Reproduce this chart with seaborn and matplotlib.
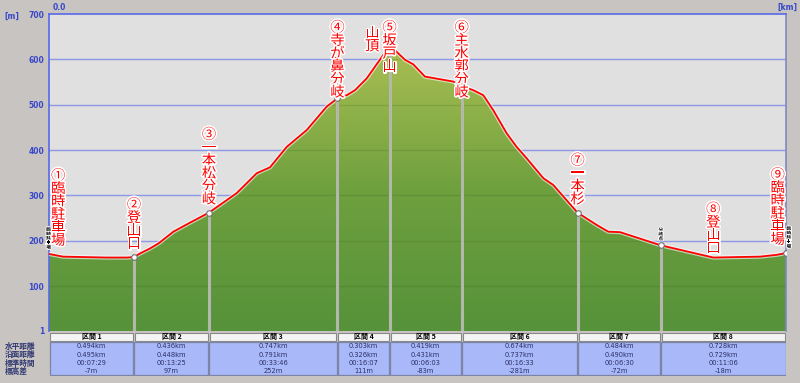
import numpy as np
import matplotlib
matplotlib.use("Agg")
import matplotlib.pyplot as plt
import matplotlib.patheffects as pe
from matplotlib.colors import LinearSegmentedColormap
from matplotlib.patches import Rectangle
import seaborn as sns

# --- 標高プロファイル (水平距離 km, 標高 m) ---
dist_km = [0.000, 0.081, 0.335, 0.452, 0.494, 0.529, 0.587, 0.636, 0.723, 0.820,
           0.930, 1.091, 1.208, 1.285, 1.382, 1.498, 1.615, 1.677, 1.731, 1.779,
           1.847, 1.944, 1.980, 2.012, 2.070, 2.118, 2.186, 2.351, 2.399, 2.467,
           2.525, 2.583, 2.661, 2.719, 2.777, 2.874, 2.932, 3.073, 3.184, 3.252,
           3.320, 3.557, 3.862, 4.134, 4.231, 4.285]
elev_m = [171, 165, 163, 163, 164, 172, 183, 194, 220, 240,
          262, 305, 349, 362, 407, 444, 496, 514, 521, 532,
          558, 610, 618, 620, 599, 589, 562, 551, 541, 532,
          521, 488, 437, 407, 382, 338, 323, 262, 235, 220,
          219, 190, 163, 165, 169, 173]

# --- 区間データ ---
section_names = ["区間 1", "区間 2", "区間 3", "区間 4", "区間 5", "区間 6", "区間 7", "区間 8"]
horiz_km = [0.494, 0.436, 0.747, 0.303, 0.419, 0.674, 0.484, 0.728]
surface_km = [0.495, 0.448, 0.791, 0.326, 0.431, 0.737, 0.490, 0.729]
walk_time = ["00:07:29", "00:13:25", "00:33:46", "00:16:07", "00:06:03", "00:16:33", "00:06:30", "00:11:06"]
elev_diff_m = [-7, 97, 252, 111, -83, -281, -72, -18]
row_labels = ["水平距離", "沿面距離", "標準時間", "標高差"]

# --- 地点名 (区間の境界ごと) ---
point_labels = ["①臨時駐車場", "②登山口", "③一本松分岐", "④寺が鼻分岐", "⑤坂戸山",
                "⑥主水郭分岐", "⑦一本杉", "", "⑨臨時駐車場"]
extra_label = "⑧登山口"
extra_label_km = 3.862
summit_note = "山頂"
minor_labels = ["臨時駐車場", "", "", "", "", "", "", "分岐点", "臨時駐車場"]

y_ticks = [1, 100, 200, 300, 400, 500, 600, 700]

sns.set_theme(style="white")
plt.rcParams["font.family"] = ["Noto Sans CJK JP", "DejaVu Sans"]

BG = "#c8c4c2"
BLUE_TXT = "#3848c8"
W, H = 800, 383

boundaries = np.concatenate([[0.0], np.cumsum(horiz_km)])
x_max = boundaries[-1]
bound_elev = np.interp(boundaries, dist_km, elev_m)

fig = plt.figure(figsize=(8, 3.83), dpi=100, facecolor=BG)
ax = fig.add_axes([49 / W, 52 / H, 737 / W, 317 / H])
ax.set_facecolor("#e0e0e0")

# グラデーションの塗り
poly = ax.fill_between(dist_km, elev_m, 1, color="none", lw=0, zorder=2)
grad = np.linspace(0, 1, 256).reshape(-1, 1)
cmap = LinearSegmentedColormap.from_list("hill", ["#56923a", "#6ea03e", "#a8be52"])
img = ax.imshow(grad, extent=[0, x_max, 1, max(elev_m)], origin="lower",
                aspect="auto", cmap=cmap, zorder=2)
img.set_clip_path(poly.get_paths()[0], transform=ax.transData)

ax.set_xlim(0, x_max)
ax.set_ylim(1, 700)

# 目盛線 (塗りの下は青、上は薄い影)
for yv in y_ticks[1:-1]:
    ax.axhline(yv, color="#8c98e8", lw=1, zorder=1)
    ln = ax.axhline(yv, color="#1a3a10", lw=1, alpha=0.12, zorder=2.5)
    ln.set_clip_path(poly.get_paths()[0], transform=ax.transData)

# 地点の縦線
ax.vlines(boundaries[1:-1], 1, bound_elev[1:-1], color="#b4b8ac", lw=2.2, zorder=3)

# プロファイル線
ax.plot(dist_km, elev_m, color="white", lw=3, alpha=0.6, zorder=4)
sns.lineplot(x=dist_km, y=elev_m, ax=ax, color="#ff0000", lw=1.3, zorder=5,
             estimator=None, sort=False)
ax.scatter(boundaries[1:], bound_elev[1:], s=16, facecolor="white",
           edgecolor="#707070", lw=0.8, zorder=6)

ax.set_xticks([])
ax.set_yticks(y_ticks)
ax.set_yticklabels([str(v) for v in y_ticks], fontsize=5.5, color=BLUE_TXT,
                   fontweight="bold", family="DejaVu Sans")
ax.tick_params(axis="y", length=0, pad=3.5)
ax.set_xlabel("")
ax.set_ylabel("")
for side, col in [("left", "#5868e8"), ("top", "#5868e8"), ("right", "#8088c0")]:
    ax.spines[side].set_color(col)
    ax.spines[side].set_linewidth(1.2)
ax.spines["bottom"].set_visible(False)

fig.text(4 / W, 1 - 16 / H, "[m]", fontsize=5.5, color=BLUE_TXT, fontweight="bold",
         va="center", family="DejaVu Sans")
fig.text(53 / W, 1 - 7 / H, "0.0", fontsize=5.5, color=BLUE_TXT, fontweight="bold",
         va="center", family="DejaVu Sans")
fig.text(797 / W, 1 - 7 / H, "[km]", fontsize=5.5, color=BLUE_TXT, fontweight="bold",
         va="center", ha="right", family="DejaVu Sans")

# 地点ラベル (縦書き)
halo = [pe.withStroke(linewidth=2.2, foreground="white")]
fig.canvas.draw()
top_px = ax.transData.transform((0, 700))[1]
LABEL_SIZE = 10.3


def vertical_label(text, km, elev, dx_pt, color="#ff0000", size=LABEL_SIZE, gap_pt=4.5,
                   linespacing=0.9):
    t = ax.annotate("\n".join(text), xy=(km, elev), xytext=(dx_pt, gap_pt),
                    textcoords="offset points", ha="center", va="bottom",
                    fontsize=size, color=color, linespacing=linespacing,
                    path_effects=halo, zorder=8, annotation_clip=False)
    fig.canvas.draw()
    bb = t.get_window_extent()
    if bb.y1 > top_px - 7:
        t.remove()
        t = ax.annotate("\n".join(text), xy=(km, 700), xytext=(dx_pt, -5),
                        textcoords="offset points", ha="center", va="top",
                        fontsize=size, color=color, linespacing=linespacing,
                        path_effects=halo, zorder=8, annotation_clip=False)
    return t


n_pts = len(boundaries)
for i, (lab, km, ev) in enumerate(zip(minor_labels, boundaries, bound_elev)):
    if lab:
        dx = -0.3 if i == 0 else (2.0 if i == n_pts - 1 else 0)
        ax.annotate("\n".join(lab), xy=(km, ev), xytext=(dx, 3),
                    textcoords="offset points", ha="center", va="bottom",
                    fontsize=3.4, color="black", fontweight="bold", linespacing=0.85,
                    path_effects=[pe.withStroke(linewidth=1.2, foreground="white")],
                    zorder=7, annotation_clip=False)

for i, (lab, km, ev) in enumerate(zip(point_labels, boundaries, bound_elev)):
    if not lab:
        continue
    dx = 6.6 if i == 0 else (-6.0 if i == n_pts - 1 else 0)
    t = vertical_label(lab, km, ev, dx)
    if lab.startswith("⑤"):
        ax.annotate("\n".join(summit_note), xy=(km, 700), xytext=(-12.5, -9),
                    textcoords="offset points", ha="center", va="top",
                    fontsize=LABEL_SIZE, color="#ff0000", linespacing=0.9,
                    path_effects=halo, zorder=8, annotation_clip=False)

vertical_label(extra_label, extra_label_km, np.interp(extra_label_km, dist_km, elev_m), 0,
               gap_pt=1.5)

# 区間の表
tab = fig.add_axes([49 / W, 7 / H, 737 / W, 45 / H])
tab.set_xlim(0, x_max)
tab.set_ylim(45, 0)
tab.axis("off")
px = x_max / 737
row_y = [15.5, 23.8, 32.1, 40.4]
for i in range(len(horiz_km)):
    x0, x1 = boundaries[i], boundaries[i + 1]
    xc = (x0 + x1) / 2
    tab.add_patch(Rectangle((x0 + px, 2), x1 - x0 - 2 * px, 8, facecolor="#f4f4f4",
                            edgecolor="#8a8a8a", lw=0.8))
    tab.add_patch(Rectangle((x0 + 0.5 * px, 10.5), x1 - x0 - px, 33.5, facecolor="#a8b8f8",
                            edgecolor="#7c84a4", lw=0.9))
    tab.text(xc, 6, section_names[i], ha="center", va="center", fontsize=5,
             fontweight="bold", color="black")
    vals = [f"{horiz_km[i]:.3f}km", f"{surface_km[i]:.3f}km", walk_time[i],
            f"{elev_diff_m[i]}m"]
    for yv, v in zip(row_y, vals):
        tab.text(xc, yv, v, ha="center", va="center", fontsize=4.8, color="#2a3068",
                 family="DejaVu Sans")

for yv, lab in zip(row_y, row_labels):
    fig.text(5 / W, 1 - (331 + yv) / H, lab, ha="left", va="center", fontsize=5.5,
             fontweight="bold", color="#303870")

fig.savefig("out.png", dpi=100, facecolor=BG)
